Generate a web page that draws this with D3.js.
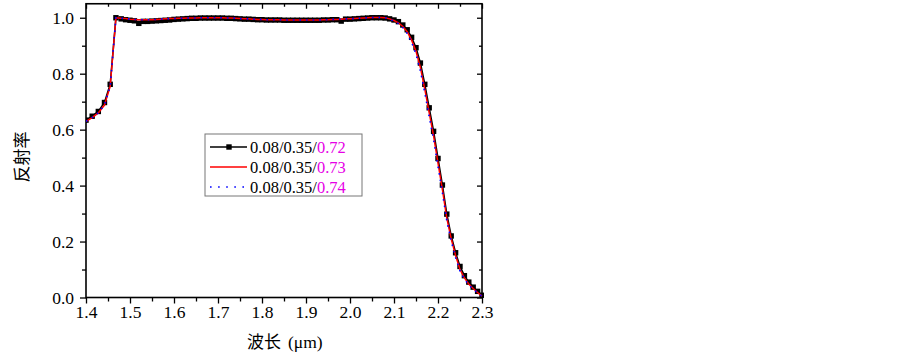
<!DOCTYPE html>
<html>
<head>
<meta charset="utf-8">
<script src="https://cdn.jsdelivr.net/npm/d3@7"></script>
<style>
html,body{margin:0;padding:0;background:#fff;}
svg{display:block;}
</style>
</head>
<body>
<svg id="chart" width="903" height="358"></svg>
<script>
// ---------- data ----------
const wavelength = [
1.400,1.414,1.428,1.442,1.455,1.468,1.48,1.49,
1.50,1.51,1.52,1.53,1.54,1.55,1.56,1.57,1.58,1.59,
1.60,1.61,1.62,1.63,1.64,1.65,1.66,1.67,1.68,1.69,
1.70,1.71,1.72,1.73,1.74,1.75,1.76,1.77,1.78,1.79,
1.80,1.81,1.82,1.83,1.84,1.85,1.86,1.87,1.88,1.89,
1.90,1.91,1.92,1.93,1.94,1.95,1.96,1.97,1.98,1.99,
2.00,2.01,2.02,2.03,2.04,2.05,2.06,2.07,2.08,2.09,
2.10,2.11,2.12,2.13,2.14,2.15,2.16,2.17,2.18,2.19,
2.20,2.21,2.22,2.23,2.24,2.25,2.26,2.27,2.28,2.29,
2.30];

const series072 = [
0.634,0.648,0.665,0.697,0.762,1.000,0.996,0.993,
0.991,0.989,0.980,0.987,0.987,0.988,0.989,0.990,0.991,0.992,
0.994,0.995,0.996,0.997,0.998,0.998,0.999,0.999,0.999,0.999,
0.999,0.999,0.998,0.998,0.997,0.996,0.995,0.995,0.994,0.993,
0.993,0.992,0.992,0.992,0.992,0.991,0.991,0.991,0.991,0.991,
0.991,0.991,0.991,0.991,0.992,0.992,0.993,0.993,0.988,0.995,
0.995,0.996,0.997,0.998,0.999,1.000,1.000,1.000,0.999,0.996,
0.992,0.986,0.974,0.957,0.930,0.893,0.838,0.762,0.678,0.594,
0.497,0.402,0.298,0.220,0.160,0.111,0.078,0.055,0.037,0.022,
0.008];

const series073 = [
0.630,0.643,0.660,0.688,0.755,1.000,0.998,0.997,
0.995,0.994,0.993,0.993,0.993,0.993,0.994,0.995,0.996,0.997,
0.997,0.998,0.998,0.999,0.999,0.999,1.000,1.000,1.000,1.000,
1.000,1.000,0.999,0.999,0.998,0.997,0.996,0.996,0.995,0.994,
0.994,0.993,0.993,0.993,0.993,0.992,0.992,0.992,0.992,0.992,
0.992,0.992,0.992,0.992,0.993,0.993,0.994,0.994,0.995,0.996,
0.996,0.997,0.998,0.999,1.000,1.001,1.001,1.001,1.000,0.996,
0.990,0.982,0.969,0.950,0.920,0.880,0.822,0.745,0.660,0.578,
0.480,0.386,0.284,0.210,0.150,0.100,0.070,0.048,0.032,0.018,
0.005];

const series074 = [
0.630,0.643,0.660,0.688,0.755,1.000,0.998,0.997,
0.995,0.994,0.993,0.993,0.993,0.993,0.994,0.995,0.996,0.997,
0.997,0.998,0.998,0.999,0.999,0.999,1.000,1.000,1.000,1.000,
1.000,1.000,0.999,0.999,0.998,0.997,0.996,0.996,0.995,0.994,
0.994,0.993,0.993,0.993,0.993,0.992,0.992,0.992,0.992,0.992,
0.992,0.992,0.992,0.992,0.993,0.993,0.994,0.994,0.995,0.996,
0.996,0.997,0.998,0.999,1.000,1.001,1.001,1.001,1.000,0.995,
0.988,0.979,0.965,0.944,0.912,0.870,0.810,0.732,0.646,0.565,
0.468,0.375,0.275,0.202,0.143,0.095,0.066,0.045,0.030,0.017,
0.004];

const xTicks = [1.4,1.5,1.6,1.7,1.8,1.9,2.0,2.1,2.2,2.3];
const xMinorTicks = [1.45,1.55,1.65,1.75,1.85,1.95,2.05,2.15,2.25];
const yTicks = [0.0,0.2,0.4,0.6,0.8,1.0];
const yMinorTicks = [0.1,0.3,0.5,0.7,0.9];
const legendPrefix = ["0.08/0.35/","0.08/0.35/","0.08/0.35/"];
const legendSuffix = ["0.72","0.73","0.74"];
const xTitleCJK = "波长";
const xTitleUnit = "(μm)";
const yTitle = "反射率";

// ---------- drawing ----------
const svg = d3.select("#chart");
const L = 86, R = 482, T = 3.75, B = 297.5;
const x = d3.scaleLinear().domain([1.4, 2.3]).range([L, R]);
const y = d3.scaleLinear().domain([0, 1.05]).range([B, T]);
const serif = "'Liberation Serif','Times New Roman',serif";
const cjk = "'Noto Sans CJK SC',sans-serif";

function styleAxis(g){
  g.select(".domain").remove();
  g.selectAll("line").attr("stroke","#000").attr("stroke-width",1.3);
}

// bottom major
svg.append("g").attr("transform",`translate(0,${B})`)
  .call(d3.axisBottom(x).tickValues(xTicks).tickSize(6).tickPadding(2.5).tickFormat(d3.format(".1f")))
  .call(styleAxis)
  .call(g=>g.selectAll("text").attr("font-family",serif).attr("font-size",17.5).attr("fill","#000"));
svg.append("g").attr("transform",`translate(0,${B})`)
  .call(d3.axisBottom(x).tickValues(xMinorTicks).tickSize(4).tickFormat(""))
  .call(styleAxis);
// top (inward)
svg.append("g").attr("transform",`translate(0,${T})`)
  .call(d3.axisBottom(x).tickValues(xTicks).tickSize(5).tickFormat(""))
  .call(styleAxis);
svg.append("g").attr("transform",`translate(0,${T})`)
  .call(d3.axisBottom(x).tickValues(xMinorTicks).tickSize(3).tickFormat(""))
  .call(styleAxis);
// left major
svg.append("g").attr("transform",`translate(${L},0)`)
  .call(d3.axisLeft(y).tickValues(yTicks).tickSize(6).tickPadding(6).tickFormat(d3.format(".1f")))
  .call(styleAxis)
  .call(g=>g.selectAll("text").attr("font-family",serif).attr("font-size",17.5).attr("fill","#000"));
svg.append("g").attr("transform",`translate(${L},0)`)
  .call(d3.axisLeft(y).tickValues(yMinorTicks).tickSize(4).tickFormat(""))
  .call(styleAxis);
// right (inward)
svg.append("g").attr("transform",`translate(${R},0)`)
  .call(d3.axisLeft(y).tickValues(yTicks).tickSize(5).tickFormat(""))
  .call(styleAxis);
svg.append("g").attr("transform",`translate(${R},0)`)
  .call(d3.axisLeft(y).tickValues(yMinorTicks).tickSize(3).tickFormat(""))
  .call(styleAxis);

// frame
svg.append("rect").attr("x",L).attr("y",T).attr("width",R-L).attr("height",B-T)
  .attr("fill","none").attr("stroke","#000").attr("stroke-width",1.6);

// clip
svg.append("clipPath").attr("id","clip").append("rect")
  .attr("x",L).attr("y",T-2).attr("width",R-L+2).attr("height",B-T+4);
const plot = svg.append("g").attr("clip-path","url(#clip)");

const line = vals => d3.line().x((d,i)=>x(wavelength[i])).y(d=>y(d))(vals);

// black with squares
plot.append("path").attr("d",line(series072)).attr("fill","none")
  .attr("stroke","#000").attr("stroke-width",1.6);
plot.selectAll("rect.m").data(series072).join("rect").attr("class","m")
  .attr("x",(d,i)=>x(wavelength[i])-2.7).attr("y",d=>y(d)-2.7)
  .attr("width",5.4).attr("height",5.4).attr("fill","#000");
// red
plot.append("path").attr("d",line(series073)).attr("fill","none")
  .attr("stroke","#ff0000").attr("stroke-width",1.5);
// blue dotted
plot.append("path").attr("d",line(series074)).attr("fill","none")
  .attr("stroke","#0000ff").attr("stroke-width",1.6).attr("stroke-dasharray","1.6,5");

// axis titles
svg.append("text").attr("x",247).attr("y",348)
  .attr("font-size",17).attr("fill","#000")
  .call(t=>{
    t.append("tspan").attr("font-family",cjk).text(xTitleCJK);
    t.append("tspan").attr("x",288).attr("font-family",serif).attr("font-size",17.5).text(xTitleUnit);
  });
svg.append("text").attr("transform",`translate(28,157) rotate(-90)`)
  .attr("text-anchor","middle").attr("font-size",17)
  .attr("font-family",cjk).attr("fill","#000").text(yTitle);

// legend
const lg = svg.append("g");
lg.append("rect").attr("x",205).attr("y",134).attr("width",157).attr("height",62)
  .attr("fill","#fff").attr("stroke","#777").attr("stroke-width",1);
const rowsY = [147,167,187];
const styles = [
  {stroke:"#000",w:1.6,dash:null,marker:true},
  {stroke:"#ff0000",w:1.5,dash:null,marker:false},
  {stroke:"#0000ff",w:1.6,dash:"1.6,6.5",marker:false}
];
styles.forEach((s,i)=>{
  lg.append("line").attr("x1",210).attr("x2",247).attr("y1",rowsY[i]).attr("y2",rowsY[i])
    .attr("stroke",s.stroke).attr("stroke-width",s.w).attr("stroke-dasharray",s.dash);
  if(s.marker) lg.append("rect").attr("x",229-2.7).attr("y",rowsY[i]-2.7).attr("width",5.4).attr("height",5.4).attr("fill","#000");
  const t = lg.append("text").attr("x",250).attr("y",rowsY[i]+6)
    .attr("font-family",serif).attr("font-size",16.5).attr("fill","#000");
  t.append("tspan").text(legendPrefix[i]);
  t.append("tspan").attr("fill","#e600e6").text(legendSuffix[i]);
});
</script>
</body>
</html>
